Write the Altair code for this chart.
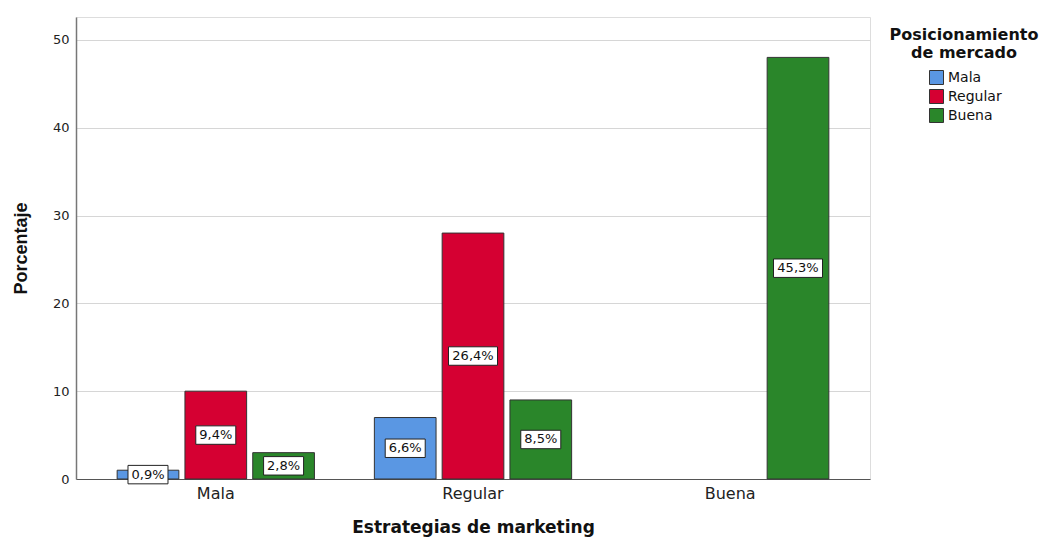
import altair as alt
import pandas as pd

# --- data ---
estrategias = ["Mala", "Mala", "Mala", "Regular", "Regular", "Regular", "Buena"]
posicionamiento = ["Mala", "Regular", "Buena", "Mala", "Regular", "Buena", "Buena"]
conteo = [1, 10, 3, 7, 28, 9, 48]
etiquetas = ["0,9%", "9,4%", "2,8%", "6,6%", "26,4%", "8,5%", "45,3%"]

cat_orden = ["Mala", "Regular", "Buena"]
colores = ["#5A97E3", "#D50032", "#2A862A"]
y_ticks = [0, 10, 20, 30, 40, 50]
legend_title = ["Posicionamiento", "de mercado"]

df = pd.DataFrame({
    "estr": estrategias,
    "pos": posicionamiento,
    "val": conteo,
    "lab": etiquetas,
})
df["mid"] = df["val"] / 2.0
df["lo"] = df["mid"] - 1.05
df["hi"] = df["mid"] + 1.05
df["nch"] = df["lab"].str.len()

FONT = "DejaVu Sans"

x_enc = alt.X("estr:N", sort=cat_orden,
              scale=alt.Scale(paddingInner=0.233, paddingOuter=0.16),
              axis=alt.Axis(title="Estrategias de marketing", labelAngle=0,
                            labelFont=FONT, labelFontSize=16, labelColor="#222",
                            labelPadding=6, ticks=False,
                            titleFont=FONT, titleFontSize=17, titleFontWeight="bold",
                            titleColor="#111", titlePadding=18,
                            domainColor="#555", domainWidth=1))
xoff = alt.XOffset("pos:N", sort=cat_orden, scale=alt.Scale(paddingInner=0.09))
y_scale = alt.Scale(domain=[0, 52.6], nice=False, zero=True)

base = alt.Chart(df)

bars = base.mark_bar(stroke="#333333", strokeWidth=1, opacity=1).encode(
    x=x_enc,
    xOffset=xoff,
    y=alt.Y("val:Q", scale=y_scale,
            axis=alt.Axis(title="Porcentaje", values=y_ticks, ticks=False,
                          labelFont=FONT, labelFontSize=13, labelColor="#222",
                          labelPadding=7, grid=True, gridColor="#d6d6d6",
                          gridWidth=1, domainColor="#777", domainWidth=1.5,
                          titleFont="Liberation Sans", titleFontSize=18,
                          titleFontWeight="bold", titleColor="#111",
                          titlePadding=22)),
    color=alt.Color("pos:N", sort=cat_orden,
                    scale=alt.Scale(domain=cat_orden, range=colores),
                    legend=alt.Legend(title=None, orient="none", legendX=853,
                                      legendY=53, symbolType="square",
                                      symbolSize=196, symbolStrokeColor="#333",
                                      symbolStrokeWidth=1, symbolOpacity=1,
                                      labelFont=FONT, labelFontSize=14,
                                      labelColor="#111", labelOffset=4,
                                      rowPadding=0, padding=0)),
)

def box(n, w):
    return base.transform_filter(alt.datum.nch == n).mark_bar(
        width=w, fill="white", stroke="#222", strokeWidth=1
    ).encode(
        x=alt.X("estr:N", sort=cat_orden),
        xOffset=alt.XOffset("pos:N", sort=cat_orden),
        y=alt.Y("lo:Q", scale=y_scale),
        y2="hi:Q",
    )

boxes4 = box(4, 40)
boxes5 = box(5, 49)

texts = base.mark_text(font=FONT, fontSize=13, color="#111",
                       baseline="middle", align="center").encode(
    x=alt.X("estr:N", sort=cat_orden),
    xOffset=alt.XOffset("pos:N", sort=cat_orden),
    y=alt.Y("mid:Q", scale=y_scale),
    text="lab:N",
)

ltitle = alt.Chart(pd.DataFrame({"t": [0]})).mark_text(
    font=FONT, fontSize=16, fontWeight="bold", color="#111",
    align="center", baseline="alphabetic", lineHeight=18,
).encode(
    x=alt.value(888), y=alt.value(23), text=alt.value(legend_title)
)

chart = alt.layer(bars, boxes4, boxes5, texts, ltitle).resolve_scale(
    x="shared", y="shared"
).properties(
    width=794, height=462,
    autosize=alt.AutoSizeParams(type="none"),
    padding={"left": 68, "top": 9, "right": 176, "bottom": 62},
).configure_view(stroke=None).configure(background="white")

chart.save("out.html", embed_options={"renderer": "svg", "actions": False})
